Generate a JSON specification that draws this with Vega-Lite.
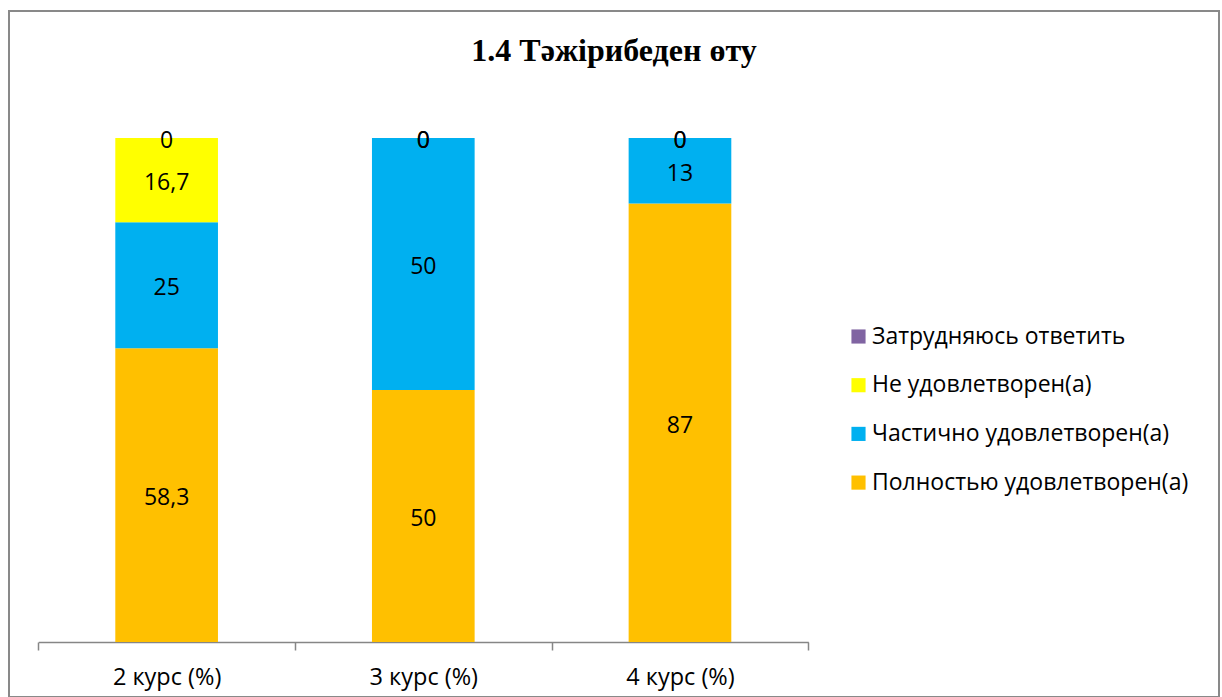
{
  "$schema": "https://vega.github.io/schema/vega-lite/v6.json",
  "width": 1210,
  "height": 686,
  "autosize": {"type": "none"},
  "padding": {"left": 9, "top": 11, "right": 3, "bottom": 0},
  "background": "white",
  "config": {
    "view": {"stroke": "#898989", "strokeWidth": 2},
    "font": "Open Sans"
  },
  "title": {
    "text": "1.4 Тәжірибеден өту",
    "font": "Liberation Serif",
    "fontWeight": "bold",
    "fontSize": 32,
    "color": "black",
    "anchor": "middle",
    "frame": "group",
    "baseline": "middle",
    "offset": -72
  },
  "data": {
    "values": [
      {"course": "2 курс (%)", "category": "Полностью удовлетворен(а)", "order": 1, "value": 58.3, "label": "58,3"},
      {"course": "2 курс (%)", "category": "Частично удовлетворен(а)", "order": 2, "value": 25, "label": "25"},
      {"course": "2 курс (%)", "category": "Не удовлетворен(а)", "order": 3, "value": 16.7, "label": "16,7"},
      {"course": "2 курс (%)", "category": "Затрудняюсь ответить", "order": 4, "value": 0, "label": "0"},
      {"course": "3 курс (%)", "category": "Полностью удовлетворен(а)", "order": 1, "value": 50, "label": "50"},
      {"course": "3 курс (%)", "category": "Частично удовлетворен(а)", "order": 2, "value": 50, "label": "50"},
      {"course": "3 курс (%)", "category": "Не удовлетворен(а)", "order": 3, "value": 0, "label": "0"},
      {"course": "3 курс (%)", "category": "Затрудняюсь ответить", "order": 4, "value": 0, "label": "0"},
      {"course": "4 курс (%)", "category": "Полностью удовлетворен(а)", "order": 1, "value": 87, "label": "87"},
      {"course": "4 курс (%)", "category": "Частично удовлетворен(а)", "order": 2, "value": 13, "label": "13"},
      {"course": "4 курс (%)", "category": "Не удовлетворен(а)", "order": 3, "value": 0, "label": "0"},
      {"course": "4 курс (%)", "category": "Затрудняюсь ответить", "order": 4, "value": 0, "label": "0"}
    ]
  },
  "transform": [
    {"stack": "value", "groupby": ["course"], "sort": [{"field": "order", "order": "ascending"}], "as": ["v0", "v1"]},
    {"calculate": "(datum.v0 + datum.v1) / 2", "as": "mid"}
  ],
  "encoding": {
    "x": {
      "field": "course",
      "type": "nominal",
      "sort": null,
      "scale": {"range": [29.3, 799.3], "paddingInner": 0, "paddingOuter": 0},
      "axis": {
        "title": null,
        "labelAngle": 0,
        "offset": -55,
        "domainColor": "#868686",
        "domainWidth": 1.5,
        "tickColor": "#868686",
        "tickWidth": 1.5,
        "tickSize": 8,
        "tickBand": "extent",
        "labelFontSize": 23.5,
        "labelColor": "black",
        "labelPadding": 15,
        "grid": false
      }
    }
  },
  "layer": [
    {
      "mark": {"type": "bar", "width": {"band": 0.4}},
      "encoding": {
        "y": {"field": "v0", "type": "quantitative", "scale": {"domain": [0, 100], "range": [631, 127], "nice": false}, "axis": null},
        "y2": {"field": "v1"},
        "color": {
          "field": "category",
          "type": "nominal",
          "scale": {
            "domain": ["Затрудняюсь ответить", "Не удовлетворен(а)", "Частично удовлетворен(а)", "Полностью удовлетворен(а)"],
            "range": ["#8064A2", "#FFFF00", "#00B0F0", "#FFC000"]
          },
          "legend": {
            "orient": "none",
            "legendX": 838,
            "legendY": 314,
            "title": null,
            "padding": 0,
            "symbolType": "square",
            "symbolSize": 200,
            "symbolStrokeWidth": 0,
            "labelFontSize": 23,
            "labelLimit": 500,
            "labelColor": "black",
            "labelOffset": 2,
            "rowPadding": 24.7
          }
        }
      }
    },
    {
      "mark": {"type": "text", "fontSize": 23, "color": "black", "baseline": "middle", "align": "center", "dy": 3},
      "encoding": {
        "y": {"field": "mid", "type": "quantitative"},
        "text": {"field": "label"}
      }
    }
  ]
}
